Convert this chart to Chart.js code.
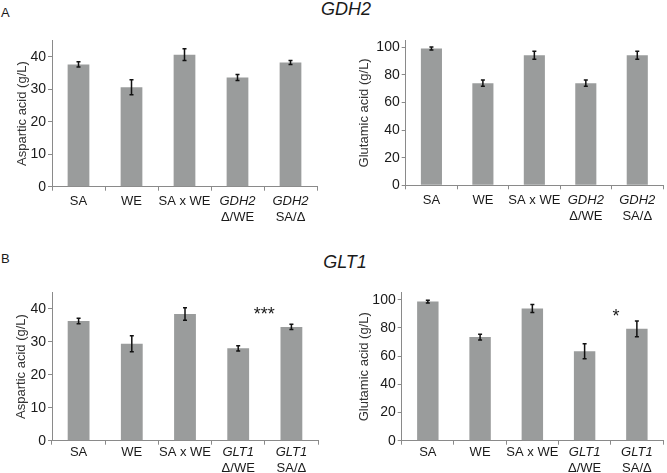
<!DOCTYPE html>
<html>
<head>
<meta charset="utf-8">
<script src="https://cdn.jsdelivr.net/npm/chart.js@4.4.0/dist/chart.umd.min.js"></script>
<style>
  body { margin: 0; background: #fff; width: 667px; height: 473px; position: relative; overflow: hidden;
         font-family: "Liberation Sans", Arial, sans-serif; color: #1a1a1a; }
  .panel { position: absolute; font-size: 13px; line-height: 13px; }
  .gene { position: absolute; font-size: 18px; line-height: 18px; font-style: italic; transform: translateX(-50%); }
  canvas { position: absolute; }
</style>
</head>
<body>
<div class="panel" style="left:1px;top:6px">A</div>
<div class="gene" style="left:346px;top:0px">GDH2</div>
<div class="panel" style="left:1px;top:252px">B</div>
<div class="gene" style="left:345px;top:253px">GLT1</div>

<canvas id="gdh2-asp" width="333" height="200" style="left:0;top:30px"></canvas>
<canvas id="gdh2-glu" width="334" height="200" style="left:333px;top:30px"></canvas>
<canvas id="glt1-asp" width="333" height="193" style="left:0;top:280px"></canvas>
<canvas id="glt1-glu" width="334" height="193" style="left:333px;top:280px"></canvas>

<script>
// etiquetas de las cepas
var geneNames = ['GDH2', 'GLT1'];
var gdh2Labels = ['SA', 'WE', 'SA x WE', ['GDH2', 'Δ/WE'], ['GDH2', 'SA/Δ']];
var glt1Labels = ['SA', 'WE', 'SA x WE', ['GLT1', 'Δ/WE'], ['GLT1', 'SA/Δ']];

// GDH2
var gdh2Asp = [37.6, 30.6, 40.6, 33.6, 38.2];
var gdh2AspErr = [0.8, 2.3, 1.8, 0.9, 0.6];
var gdh2Glu = [99.2, 74.0, 94.3, 74.0, 94.3];
var gdh2GluErr = [1.1, 2.3, 2.9, 2.3, 2.9];

// GLT1
var glt1Asp = [36.3, 29.4, 38.4, 28.0, 34.5];
var glt1AspErr = [0.8, 2.4, 1.9, 0.8, 0.8];
var glt1Glu = [98.7, 73.5, 93.8, 63.4, 79.4];
var glt1GluErr = [1.0, 2.1, 2.8, 5.3, 5.6];

// ejes
var aspTicks = [0, 10, 20, 30, 40];
var aspMax = 45;
var gluTicks = [0, 20, 40, 60, 80, 100];
var gluMax = 105;

// marcas de significancia (posicion en categorias, valor)
var glt1AspMarks = [{ pos: 3.49, value: 39.5, text: '***' }];
var glt1GluMarks = [{ pos: 3.6, value: 91.5, text: '*' }];

var FONT = '"Liberation Sans", Arial, sans-serif';
var AXIS = '#8a8a8a';
var TEXT = '#1a1a1a';

var errorBars = {
    id: 'errorBars',
    afterDatasetsDraw: function (chart, args, opts) {
        var ctx = chart.ctx, ys = chart.scales.y;
        var data = chart.data.datasets[0].data;
        ctx.save();
        ctx.strokeStyle = '#111';
        ctx.lineWidth = 1.5;
        chart.getDatasetMeta(0).data.forEach(function (bar, i) {
            var top = ys.getPixelForValue(data[i] + opts.errors[i]);
            var bot = ys.getPixelForValue(data[i] - opts.errors[i]);
            ctx.beginPath();
            ctx.moveTo(bar.x, top); ctx.lineTo(bar.x, bot);
            ctx.moveTo(bar.x - 2, top); ctx.lineTo(bar.x + 2, top);
            ctx.moveTo(bar.x - 2, bot); ctx.lineTo(bar.x + 2, bot);
            ctx.stroke();
        });
        ctx.restore();
    }
};

var xLabels = {
    id: 'xLabels',
    afterDraw: function (chart, args, opts) {
        var ctx = chart.ctx, xs = chart.scales.x;
        ctx.save();
        ctx.fillStyle = TEXT;
        ctx.textAlign = 'center';
        ctx.textBaseline = 'alphabetic';
        chart.data.labels.forEach(function (lab, i) {
            var lines = Array.isArray(lab) ? lab : [lab];
            var x = xs.getPixelForTick(i);
            lines.forEach(function (line, j) {
                ctx.font = (geneNames.indexOf(line) >= 0 ? 'italic ' : '') + '13px ' + FONT;
                ctx.fillText(line, x, xs.top + opts.gap + j * 16);
            });
        });
        ctx.restore();
    }
};

var marks = {
    id: 'marks',
    afterDraw: function (chart, args, opts) {
        var ctx = chart.ctx, xs = chart.scales.x, ys = chart.scales.y;
        ctx.save();
        ctx.fillStyle = TEXT;
        ctx.textAlign = 'center';
        ctx.textBaseline = 'alphabetic';
        ctx.font = '18px ' + FONT;
        (opts.items || []).forEach(function (m) {
            ctx.fillText(m.text, xs.getPixelForValue(m.pos), ys.getPixelForValue(m.value) + 10);
        });
        ctx.restore();
    }
};

function makeChart(id, labels, values, errors, yTitle, ticks, yMax, items, lay) {
    var ctx = document.getElementById(id).getContext('2d');
    return new Chart(ctx, {
        type: 'bar',
        data: {
            labels: labels,
            datasets: [{
                data: values,
                backgroundColor: '#9a9c9c',
                borderWidth: 0,
                barPercentage: 0.41,
                categoryPercentage: 1
            }]
        },
        options: {
            responsive: false,
            animation: false,
            events: [],
            layout: { padding: { left: 0, right: lay.right, top: lay.top, bottom: 0 } },
            plugins: {
                legend: { display: false },
                tooltip: { enabled: false },
                errorBars: { errors: errors },
                xLabels: { gap: lay.gap },
                marks: { items: items }
            },
            scales: {
                x: {
                    grid: { display: true, drawOnChartArea: false, drawTicks: true, tickLength: 4, color: AXIS },
                    border: { display: true, color: AXIS, width: 1 },
                    ticks: { callback: function () { return ''; } },
                    afterFit: function (s) { s.height = lay.xH; }
                },
                y: {
                    min: 0,
                    max: yMax,
                    afterBuildTicks: function (s) { s.ticks = ticks.map(function (v) { return { value: v }; }); },
                    grid: { display: true, drawOnChartArea: false, drawTicks: true, tickLength: 4, color: AXIS },
                    border: { display: true, color: AXIS, width: 1 },
                    ticks: { color: TEXT, padding: 2, font: { family: FONT, size: 14 } },
                    title: {
                        display: true,
                        text: yTitle,
                        color: '#333',
                        font: { family: FONT, size: 13 },
                        padding: { top: lay.titlePad, bottom: 0 }
                    },
                    afterFit: function (s) { s.width = lay.yW; }
                }
            }
        },
        plugins: [errorBars, xLabels, marks]
    });
}

makeChart('gdh2-asp', gdh2Labels, gdh2Asp, gdh2AspErr, 'Aspartic acid (g/L)', aspTicks, aspMax, [],
    { yW: 52, xH: 43.3, right: 16, top: 9.3, gap: 18.6, titlePad: 15 });
makeChart('gdh2-glu', gdh2Labels, gdh2Glu, gdh2GluErr, 'Glutamic acid (g/L)', gluTicks, gluMax, [],
    { yW: 72.7, xH: 44.7, right: 4, top: 9.3, gap: 18.6, titlePad: 24 });
makeChart('glt1-asp', glt1Labels, glt1Asp, glt1AspErr, 'Aspartic acid (g/L)', aspTicks, aspMax, glt1AspMarks,
    { yW: 52, xH: 32.3, right: 15, top: 12.3, gap: 15.6, titlePad: 14 });
makeChart('glt1-glu', glt1Labels, glt1Glu, glt1GluErr, 'Glutamic acid (g/L)', gluTicks, gluMax, glt1GluMarks,
    { yW: 68.7, xH: 32.3, right: 4, top: 12.7, gap: 15.6, titlePad: 24 });
</script>
</body>
</html>
